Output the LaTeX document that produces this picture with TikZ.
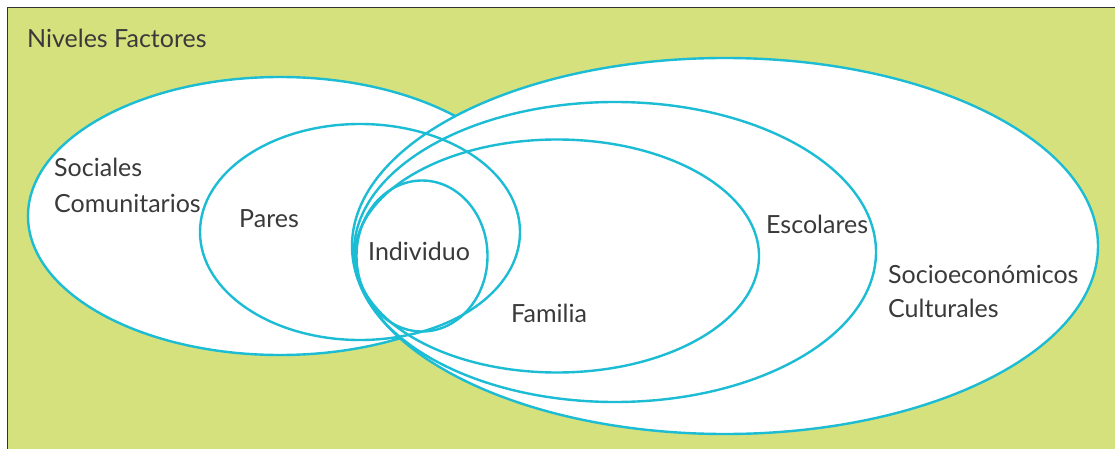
\documentclass[tikz,border=0pt]{standalone}
\usepackage{fontspec}
\setmainfont{Lato}
\usetikzlibrary{shapes.geometric}
\definecolor{fondo}{RGB}{213,225,125}
\definecolor{aro}{RGB}{27,188,212}
\definecolor{letra}{RGB}{58,58,58}

\begin{document}
\begin{tikzpicture}[x=1pt,y=-1pt,
		level node/.style={ellipse,draw=aro,line width=2.4pt,inner sep=0pt},
		text node/.style={text=letra,font=\fontsize{25}{30}\selectfont,inner sep=0pt,anchor=base west}]
		\useasboundingbox (0,0) rectangle (1115,449);
		% fondo y marco
		\fill[fondo] (7.5,7.5) rectangle (1115,449);
		\draw[line width=1.5pt,black!80] (7.5,449) -- (7.5,7.5) -- (1115,7.5);
		% niveles
		\node[level node, fill=white, minimum width=504pt, minimum height=278pt] (lv1) at (280,216) {};
		\node[level node, fill=white, minimum width=746pt, minimum height=376pt] (lv2) at (725,246) {};
		\node[level node, minimum width=522pt, minimum height=300pt] (lv3) at (615,252) {};
		\node[level node, minimum width=404pt, minimum height=233pt] (lv4) at (557,256) {};
		\node[level node, minimum width=320pt, minimum height=216pt] (lv5) at (360,232) {};
		\node[level node, minimum width=131pt, minimum height=151pt] (lv6) at (422,256) {};
		% textos
		\node[text node] (tx0) at (27,48) {Niveles Factores};
		\node[text node] (tx1) at (54,177) {Sociales};
		\node[text node] (tx2) at (54,212) {Comunitarios};
		\node[text node] (tx3) at (239,227) {Pares};
		\node[text node] (tx4) at (368,260) {Individuo};
		\node[text node] (tx5) at (511,322) {Familia};
		\node[text node] (tx6) at (766,233) {Escolares};
		\node[text node] (tx7) at (888,283) {Socioeconómicos};
		\node[text node] (tx8) at (888,317) {Culturales};
\end{tikzpicture}
\end{document}
